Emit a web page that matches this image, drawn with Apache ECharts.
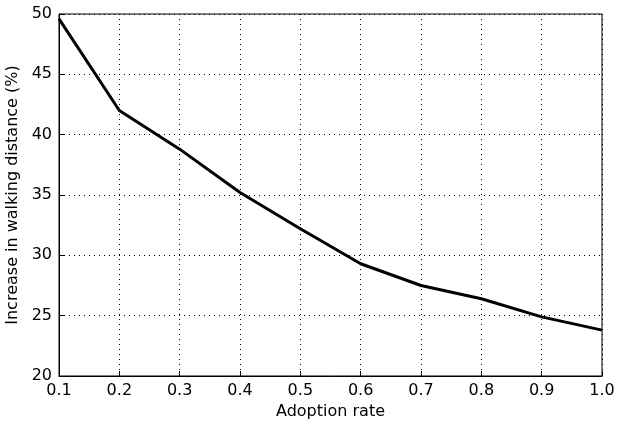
<!DOCTYPE html>
<html>
<head>
<meta charset="utf-8">
<script src="https://cdn.jsdelivr.net/npm/echarts@6/dist/echarts.min.js"></script>
<style>
  html, body { margin: 0; padding: 0; background: #fff; }
  #chart { width: 618px; height: 426px; }
</style>
</head>
<body>
<div id="chart"></div>
<script>
// adoption rate vs. increase in walking distance
const adoptionRate = [0.1, 0.2, 0.3, 0.4, 0.5, 0.6, 0.7, 0.8, 0.9, 1.0];
const walkIncrease = [49.6, 42.0, 38.8, 35.2, 32.2, 29.3, 27.5, 26.4, 24.9, 23.8];

const xLabel = 'Adoption rate';
const yLabel = 'Increase in walking distance (%)';

const font = 'DejaVu Sans';
const myChart = echarts.init(document.getElementById('chart'));

const dotted = { color: '#000', width: 1, type: [1, 4] };

myChart.setOption({
    animation: false,
    grid: {
        left: 59, right: 16, top: 14, bottom: 50,
        outerBoundsMode: 'none',
        containLabel: false,
        show: true, borderColor: '#000', borderWidth: 1,
    },
    xAxis: {
        type: 'value',
        min: 0.1, max: 1.0, interval: 0.1,
        name: xLabel,
        nameLocation: 'middle',
        nameGap: 27,
        nameTextStyle: { fontFamily: font, fontSize: 16, color: '#000' },
        axisLine: { show: true, lineStyle: { color: '#000', width: 1 } },
        axisTick: { show: true, inside: true, length: 5, lineStyle: { color: '#000' } },
        axisLabel: {
            fontFamily: font, fontSize: 16, color: '#000', margin: 7,
            formatter: (v) => v.toFixed(1),
        },
        splitLine: { show: true, lineStyle: dotted },
    },
    yAxis: {
        type: 'value',
        min: 20, max: 50, interval: 5,
        name: yLabel,
        nameLocation: 'middle',
        nameGap: 34,
        nameTextStyle: { fontFamily: font, fontSize: 16, color: '#000' },
        axisLine: { show: true, lineStyle: { color: '#000', width: 1 } },
        axisTick: { show: true, inside: true, length: 5, lineStyle: { color: '#000' } },
        axisLabel: { fontFamily: font, fontSize: 16, color: '#000', margin: 7 },
        splitLine: { show: true, lineStyle: dotted },
    },
    series: [{
        type: 'line',
        data: adoptionRate.map((x, i) => [x, walkIncrease[i]]),
        symbol: 'none',
        lineStyle: { color: '#000', width: 3 },
    }],
});
</script>
</body>
</html>
